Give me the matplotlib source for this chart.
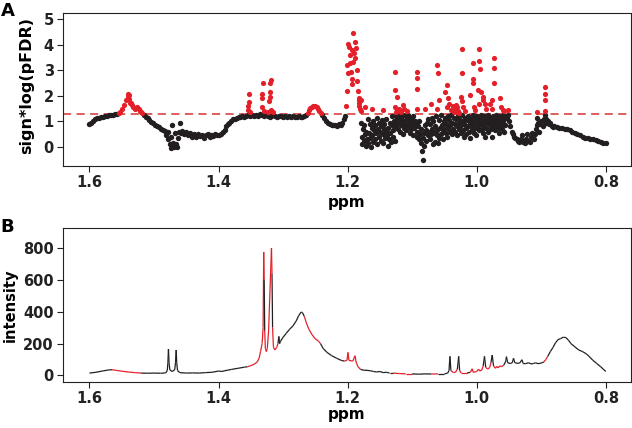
import numpy as np
import matplotlib.pyplot as plt
from matplotlib.collections import LineCollection

# ---- panel A data: (ppm, sign*log(pFDR)) ----
band_left = [(1.600, 0.88), (1.597, 0.95), (1.594, 1.02), (1.591, 1.08), (1.588, 1.12),
             (1.585, 1.15), (1.582, 1.17), (1.579, 1.19), (1.576, 1.21), (1.573, 1.22),
             (1.570, 1.24), (1.567, 1.25), (1.564, 1.24), (1.561, 1.27), (1.558, 1.28),
             (1.555, 1.31), (1.552, 1.38), (1.549, 1.50), (1.546, 1.64), (1.543, 1.82),
             (1.541, 1.96), (1.540, 2.08), (1.539, 2.02), (1.538, 1.88), (1.537, 1.74),
             (1.536, 1.72), (1.534, 1.66), (1.532, 1.55), (1.530, 1.50), (1.528, 1.52),
             (1.526, 1.56), (1.524, 1.50), (1.522, 1.42), (1.520, 1.36), (1.518, 1.32)]

band_low = [(1.516, 1.25), (1.513, 1.18), (1.510, 1.12), (1.507, 1.05), (1.504, 0.98),
            (1.501, 0.92), (1.498, 0.86), (1.495, 0.80), (1.492, 0.76), (1.489, 0.72),
            (1.486, 0.68), (1.483, 0.62), (1.481, 0.45), (1.479, 0.30), (1.478, 0.58),
            (1.476, 0.10), (1.474, 0.40), (1.473, -0.05), (1.472, 0.85), (1.471, 0.15),
            (1.469, 0.00), (1.468, 0.55), (1.466, 0.12), (1.465, -0.02), (1.463, 0.35),
            (1.461, 0.60), (1.459, 0.93), (1.458, 0.55), (1.456, 0.62), (1.453, 0.50),
            (1.450, 0.58), (1.447, 0.45), (1.444, 0.55), (1.441, 0.40), (1.438, 0.52),
            (1.435, 0.38), (1.432, 0.50), (1.429, 0.42), (1.426, 0.48), (1.423, 0.35),
            (1.420, 0.45), (1.417, 0.50), (1.414, 0.40), (1.411, 0.47), (1.408, 0.42),
            (1.405, 0.50), (1.402, 0.45), (1.399, 0.48), (1.396, 0.52), (1.393, 0.58),
            (1.390, 0.68), (1.388, 0.80), (1.386, 0.88), (1.384, 0.95), (1.381, 1.02),
            (1.378, 1.08), (1.375, 1.10), (1.372, 1.14), (1.369, 1.16), (1.366, 1.18),
            (1.363, 1.20), (1.360, 1.18), (1.357, 1.22), (1.354, 1.24)]

band_mid = [(1.351, 1.22), (1.348, 1.25), (1.345, 1.20), (1.342, 1.26), (1.339, 1.22),
            (1.336, 1.28), (1.333, 1.24), (1.330, 1.20), (1.327, 1.27), (1.324, 1.22),
            (1.321, 1.18), (1.318, 1.22), (1.315, 1.25), (1.312, 1.20), (1.309, 1.18),
            (1.306, 1.22), (1.303, 1.20), (1.300, 1.17), (1.297, 1.21), (1.294, 1.19),
            (1.291, 1.22), (1.288, 1.18), (1.285, 1.20), (1.282, 1.17), (1.279, 1.19),
            (1.276, 1.21), (1.273, 1.18), (1.270, 1.16), (1.267, 1.20), (1.264, 1.26),
            (1.262, 1.34), (1.260, 1.44), (1.258, 1.52), (1.256, 1.58), (1.253, 1.62),
            (1.250, 1.60), (1.248, 1.56), (1.246, 1.48), (1.244, 1.40), (1.242, 1.32),
            (1.240, 1.25), (1.237, 1.14), (1.234, 1.02), (1.231, 0.94), (1.228, 0.88),
            (1.225, 0.86), (1.222, 0.84), (1.219, 0.86), (1.216, 0.82), (1.213, 0.88),
            (1.210, 0.86), (1.208, 0.95), (1.206, 1.10), (1.204, 1.22)]

spikes_133 = [(1.354, 1.45), (1.354, 1.62), (1.353, 1.77), (1.353, 2.09), (1.352, 1.38),
              (1.333, 1.55), (1.332, 1.93), (1.332, 2.09), (1.331, 2.51), (1.330, 1.40),
              (1.323, 1.35), (1.322, 1.79), (1.321, 1.96), (1.320, 2.16), (1.320, 2.49),
              (1.319, 2.64), (1.318, 1.45), (1.316, 1.35)]

cluster_120 = [(1.202, 1.60), (1.201, 2.20), (1.201, 3.20), (1.200, 2.90), (1.199, 4.05),
               (1.198, 3.90), (1.197, 3.60), (1.196, 3.27), (1.195, 2.94), (1.194, 2.68),
               (1.193, 3.79), (1.193, 2.45), (1.192, 3.33), (1.191, 4.45), (1.190, 3.70),
               (1.189, 3.50), (1.188, 4.12), (1.187, 3.88), (1.186, 3.00), (1.185, 2.58),
               (1.184, 2.20), (1.183, 1.90), (1.183, 1.61), (1.182, 1.71), (1.181, 1.50),
               (1.180, 1.83), (1.179, 1.40)]

noisy_black = [(1.179, 0.95), (1.178, 0.40), (1.177, 0.10), (1.176, 0.70), (1.175, 0.25),
               (1.174, 0.85), (1.173, 0.50), (1.172, 0.05), (1.171, 0.60), (1.170, 0.30),
               (1.169, 1.10), (1.168, 0.15), (1.167, 0.55), (1.166, 0.90), (1.165, 0.35),
               (1.164, 0.00), (1.163, 0.75), (1.162, 0.45), (1.161, 1.00), (1.160, 0.20),
               (1.159, 0.65), (1.158, 0.85), (1.157, 0.30), (1.156, 0.55), (1.155, 1.15),
               (1.154, 0.10), (1.153, 0.70), (1.152, 0.40), (1.151, 0.95), (1.150, 0.60),
               (1.149, 0.25), (1.148, 0.80), (1.147, 1.05), (1.146, 0.50), (1.145, 0.15),
               (1.144, 0.70), (1.143, 0.90), (1.142, 0.35), (1.141, 0.60), (1.140, 1.10),
               (1.139, 0.45), (1.138, 0.05), (1.137, 0.75), (1.136, 0.30), (1.135, 0.95),
               (1.134, 0.55), (1.133, 0.20), (1.132, 0.85), (1.131, 1.20), (1.130, 0.65),
               (1.129, 0.40), (1.128, 1.00), (1.127, 0.25), (1.126, 0.80), (1.125, 1.20),
               (1.124, 0.90), (1.123, 1.10), (1.122, 0.70), (1.121, 1.25), (1.120, 0.95),
               (1.119, 0.60), (1.118, 1.15), (1.117, 0.85), (1.116, 1.05), (1.115, 0.50),
               (1.114, 1.25), (1.113, 0.75), (1.112, 1.00), (1.111, 0.90), (1.110, 1.20),
               (1.109, 0.65), (1.108, 1.10), (1.107, 0.80), (1.106, 1.25), (1.105, 0.95),
               (1.104, 0.55), (1.103, 1.15), (1.102, 0.70), (1.101, 1.05), (1.100, 0.85),
               (1.099, 0.45), (1.098, 1.20), (1.097, 0.75), (1.096, 1.00), (1.094, 0.90),
               (1.093, 0.60), (1.092, 0.40), (1.091, 0.80), (1.090, 0.30), (1.089, 1.00),
               (1.088, 0.50), (1.087, 0.15), (1.086, 0.70), (1.085, -0.15), (1.084, 0.35),
               (1.083, -0.50), (1.082, 0.05), (1.081, 0.55), (1.080, 0.85), (1.079, 0.25),
               (1.078, 0.65), (1.077, 0.95), (1.076, 0.45), (1.075, 1.10), (1.074, 0.60),
               (1.073, 0.30), (1.072, 0.90), (1.071, 0.50), (1.070, 1.15), (1.069, 0.70),
               (1.068, 0.10), (1.067, 1.00), (1.066, 0.55), (1.065, 0.20), (1.064, 0.80),
               (1.063, 1.20), (1.062, 0.45), (1.061, 0.65), (1.060, 0.15), (1.059, 0.35),
               (1.058, 1.05), (1.057, 0.75), (1.056, 0.50), (1.055, 1.25), (1.054, 0.85),
               (1.053, 0.60), (1.052, 0.30), (1.051, 1.00), (1.050, 0.70), (1.049, 1.15),
               (1.048, 0.55), (1.047, 0.90), (1.046, 0.40), (1.045, 1.20), (1.044, 0.75),
               (1.043, 1.05), (1.042, 0.60), (1.041, 0.85), (1.040, 1.25), (1.039, 0.50),
               (1.038, 0.95), (1.037, 0.70), (1.036, 1.15), (1.034, 0.90), (1.033, 0.60),
               (1.032, 1.10), (1.031, 0.80), (1.030, 0.45), (1.029, 1.20), (1.028, 0.95),
               (1.027, 0.70), (1.026, 1.05), (1.025, 0.55), (1.024, 0.85), (1.023, 1.25),
               (1.022, 0.65), (1.021, 1.00), (1.020, 0.40), (1.019, 0.90), (1.018, 1.15),
               (1.017, 0.75), (1.016, 0.50), (1.015, 1.05), (1.014, 0.80), (1.013, 1.20),
               (1.012, 0.60), (1.011, 0.95), (1.010, 0.35), (1.009, 1.10), (1.008, 0.70),
               (1.007, 0.85), (1.006, 1.25), (1.005, 0.55), (1.004, 1.00), (1.003, 0.75),
               (1.002, 1.15), (1.001, 0.45), (1.000, 0.90), (0.999, 1.20), (0.998, 0.80),
               (0.997, 1.05), (0.996, 0.65), (0.995, 1.15), (0.994, 0.90), (0.993, 1.25),
               (0.992, 0.70), (0.991, 1.00), (0.990, 0.55), (0.989, 1.20), (0.988, 0.85),
               (0.987, 0.40), (0.986, 1.10), (0.985, 0.75), (0.984, 0.95), (0.983, 1.25),
               (0.982, 0.60), (0.981, 1.05), (0.980, 0.85), (0.979, 1.15), (0.978, 0.70),
               (0.977, 0.40), (0.976, 1.00), (0.975, 1.20), (0.974, 0.80), (0.973, 0.95),
               (0.972, 1.10), (0.971, 0.65), (0.970, 1.25), (0.969, 0.90), (0.968, 1.05),
               (0.967, 0.75), (0.966, 1.20), (0.965, 0.55), (0.964, 1.00), (0.963, 0.85),
               (0.962, 1.15), (0.961, 0.70), (0.960, 1.25), (0.959, 0.95), (0.958, 0.60),
               (0.957, 1.10), (0.956, 0.85), (0.955, 1.20)]

noisy_red = [(1.183, 1.84), (1.173, 1.57), (1.162, 1.50), (1.145, 1.44), (1.127, 2.94),
             (1.126, 2.22), (1.124, 1.97), (1.127, 1.57), (1.123, 1.44), (1.125, 1.37),
             (1.121, 1.50), (1.119, 1.40), (1.117, 1.35), (1.115, 1.63), (1.112, 1.50),
             (1.108, 1.42), (1.093, 2.94), (1.093, 2.69), (1.092, 2.28), (1.093, 1.50),
             (1.080, 1.50), (1.071, 1.70), (1.061, 3.20), (1.060, 2.88), (1.059, 1.83),
             (1.061, 1.50), (1.049, 2.16), (1.046, 2.42), (1.045, 1.90), (1.046, 1.57),
             (1.043, 1.70), (1.040, 1.45), (1.037, 1.60), (1.036, 1.35), (1.034, 1.50),
             (1.033, 1.40), (1.032, 1.65), (1.031, 1.38), (1.030, 1.55), (1.029, 1.42),
             (1.028, 1.33), (1.023, 3.82), (1.023, 2.90), (1.025, 1.96), (1.023, 1.80),
             (1.021, 1.57), (1.018, 1.40), (1.006, 3.30), (1.006, 2.68), (1.006, 2.51),
             (1.010, 2.03), (1.005, 1.57), (1.002, 1.45), (0.996, 3.85), (0.996, 3.37),
             (0.995, 3.07), (0.998, 2.22), (0.994, 2.16), (0.991, 1.96), (0.990, 1.83),
             (0.996, 1.70), (0.987, 1.70), (0.985, 1.50), (0.974, 3.47), (0.974, 3.10),
             (0.974, 2.52), (0.977, 1.83), (0.979, 1.70), (0.976, 1.50), (0.964, 1.90),
             (0.963, 1.57), (0.960, 1.44), (0.957, 1.40), (0.951, 1.44)]

band_right = [(0.953, 1.15), (0.951, 1.24), (0.950, 1.00), (0.948, 0.80), (0.946, 0.60),
              (0.944, 0.50), (0.942, 0.40), (0.940, 0.35), (0.938, 0.30), (0.936, 0.25),
              (0.934, 0.20), (0.932, 0.30), (0.930, 0.45), (0.928, 0.20), (0.926, 0.15),
              (0.924, 0.30), (0.922, 0.50), (0.920, 0.25), (0.918, 0.20), (0.916, 0.40),
              (0.914, 0.55), (0.912, 0.30), (0.910, 0.50), (0.908, 0.70), (0.906, 0.85),
              (0.906, 1.15), (0.905, 0.95), (0.904, 0.60), (0.902, 0.90), (0.900, 1.00),
              (0.898, 0.80), (0.896, 1.10), (0.895, 0.98), (0.894, 1.25), (0.893, 1.10),
              (0.892, 0.95), (0.890, 1.00), (0.888, 0.90), (0.886, 0.95), (0.884, 0.82),
              (0.882, 0.78), (0.880, 0.80), (0.876, 0.76), (0.872, 0.75), (0.868, 0.74),
              (0.864, 0.72), (0.860, 0.70), (0.856, 0.66), (0.852, 0.60), (0.848, 0.55),
              (0.844, 0.50), (0.840, 0.45), (0.836, 0.40), (0.832, 0.35), (0.828, 0.33),
              (0.824, 0.32), (0.820, 0.30), (0.816, 0.28), (0.812, 0.25), (0.808, 0.20),
              (0.804, 0.17), (0.800, 0.14), (0.906, 1.37), (0.894, 2.35), (0.894, 2.09),
              (0.894, 1.83), (0.894, 1.40)]

threshold = 1.3

# ---- panel B data: mean spectrum ----
spec_ppm = [1.600, 1.590, 1.580, 1.570, 1.565, 1.560, 1.550, 1.540, 1.530, 1.520,
            1.510, 1.500, 1.490, 1.482, 1.4795, 1.4785, 1.4776, 1.4767, 1.4755, 1.472,
            1.468, 1.4667, 1.4657, 1.4648, 1.4635, 1.460, 1.450, 1.440, 1.430, 1.420,
            1.410, 1.400, 1.395, 1.390, 1.380, 1.370, 1.360, 1.355, 1.350, 1.345,
            1.340, 1.337, 1.335, 1.3325, 1.331, 1.3300, 1.3293, 1.3285, 1.3275, 1.3260,
            1.3245, 1.3225, 1.3180, 1.3172, 1.3163, 1.3150, 1.3130, 1.3100, 1.3080, 1.3065,
            1.3055, 1.3040, 1.300, 1.295, 1.290, 1.285, 1.280, 1.276, 1.272, 1.270,
            1.267, 1.264, 1.260, 1.255, 1.250, 1.245, 1.242, 1.238, 1.232, 1.225,
            1.217, 1.210, 1.205, 1.201, 1.1995, 1.198, 1.192, 1.1885, 1.187, 1.184,
            1.180, 1.175, 1.170, 1.165, 1.160, 1.155, 1.150, 1.145, 1.140, 1.135,
            1.130, 1.120, 1.110, 1.100, 1.090, 1.080, 1.070, 1.060, 1.050, 1.045,
            1.043, 1.0415, 1.040, 1.036, 1.033, 1.030, 1.028, 1.0265, 1.024, 1.015,
            1.010, 1.007, 1.0055, 1.000, 0.997, 0.9955, 0.992, 0.990, 0.988, 0.986,
            0.983, 0.980, 0.978, 0.976, 0.974, 0.971, 0.969, 0.967, 0.964, 0.962,
            0.958, 0.955, 0.954, 0.952, 0.948, 0.945, 0.943, 0.941, 0.936, 0.933,
            0.930, 0.928, 0.924, 0.920, 0.916, 0.912, 0.909, 0.905, 0.900, 0.896,
            0.893, 0.890, 0.886, 0.882, 0.878, 0.874, 0.870, 0.866, 0.862, 0.858,
            0.854, 0.848, 0.842, 0.836, 0.830, 0.826, 0.820, 0.814, 0.808, 0.804,
            0.800]
spec_int = [15, 20, 28, 35, 36, 33, 27, 22, 18, 15,
            14, 15, 14, 16, 30, 80, 166, 80, 35, 25,
            35, 80, 160, 80, 30, 18, 15, 16, 15, 18,
            20, 28, 25, 30, 38, 45, 52, 55, 62, 70,
            85, 110, 150, 200, 300, 775, 600, 280, 170, 150,
            170, 280, 800, 640, 300, 180, 160, 175, 200, 245,
            200, 215, 240, 265, 290, 310, 340, 375, 398, 395,
            370, 330, 290, 255, 230, 215, 200, 170, 145, 125,
            108, 95, 90, 95, 145, 95, 90, 124, 85, 55,
            38, 33, 32, 30, 25, 22, 25, 18, 20, 15,
            15, 12, 10, 10, 8, 10, 9, 10, 10, 15,
            30, 120, 30, 18, 20, 40, 120, 30, 15, 15,
            20, 42, 20, 25, 40, 28, 35, 60, 120, 50,
            40, 50, 80, 128, 60, 45, 57, 48, 60, 55,
            65, 90, 118, 80, 75, 80, 108, 80, 76, 80,
            99, 75, 74, 80, 73, 75, 80, 74, 78, 85,
            100, 120, 150, 175, 205, 225, 232, 240, 238, 222,
            200, 180, 160, 150, 135, 120, 95, 75, 55, 40,
            25]

# ppm ranges where the spectrum is drawn in red (significant)
sig_ranges = [(1.563, 1.517), (1.357, 1.3295), (1.3287, 1.3174), (1.3166, 1.308),
              (1.266, 1.242), (1.204, 1.182), (1.130, 1.098), (1.075, 1.059),
              (1.038, 1.0305), (1.026, 1.013), (1.010, 0.9895), (0.9865, 0.978),
              (0.9745, 0.960), (0.897, 0.890)]

RED = '#E3202A'
BLACK = '#231F20'

plt.rcParams['font.family'] = 'DejaVu Sans'
plt.rcParams['font.weight'] = 'bold'
fig = plt.figure(figsize=(6.32, 4.28), dpi=100)
W, H = 632.0, 428.0


def px_axes(l, t, r, b):
    return fig.add_axes([l / W, 1 - b / H, (r - l) / W, (b - t) / H])


axA = px_axes(63, 13, 631, 166)
axB = px_axes(63, 228, 631, 382)

# panel A scatter
pts = band_left + band_low + band_mid + spikes_133 + cluster_120 + \
    noisy_black + noisy_red + band_right
ppm_a = np.array([p[0] for p in pts])
score_a = np.array([p[1] for p in pts])
sig = score_a > threshold
axA.scatter(ppm_a[~sig], score_a[~sig], s=15, color=BLACK, linewidths=0, zorder=3)
axA.scatter(ppm_a[sig], score_a[sig], s=14, color=RED, linewidths=0, zorder=3)
axA.axhline(threshold, color='#D9534F', lw=1.3, dashes=(4.5, 3), zorder=2)
axA.set_xlim(1.641, 0.761)
axA.set_ylim(-0.75, 5.25)
axA.set_yticks([0, 1, 2, 3, 4, 5])

# panel B spectrum, coloured per segment
x = np.array(spec_ppm)
y = np.array(spec_int)
segs = np.stack([np.column_stack([x[:-1], y[:-1]]), np.column_stack([x[1:], y[1:]])], axis=1)
mid = (x[:-1] + x[1:]) / 2
is_red = np.zeros(len(mid), dtype=bool)
for hi, lo in sig_ranges:
    is_red |= (mid <= hi) & (mid >= lo)
cols = [RED if r else BLACK for r in is_red]
axB.add_collection(LineCollection(segs, colors=cols, linewidths=0.9))
axB.set_xlim(1.641, 0.761)
axB.set_ylim(-41, 926)
axB.set_yticks([0, 200, 400, 600, 800])

for ax in (axA, axB):
    ax.set_xticks([1.6, 1.4, 1.2, 1.0, 0.8])
    ax.set_xticklabels(['1.6', '1.4', '1.2', '1.0', '0.8'])
    ax.tick_params(length=4.5, width=0.8, labelsize=10.5, pad=2, color='#222222',
                   labelcolor='#222222')
    for sp in ax.spines.values():
        sp.set_linewidth(0.8)
        sp.set_color('#222222')

fig.text(8 / W, 1 - 11 / H, 'A', fontsize=13, fontweight='bold', ha='center', va='center')
fig.text(7 / W, 1 - 227 / H, 'B', fontsize=13, fontweight='bold', ha='center', va='center')
fig.text(347 / W, 1 - 203 / H, 'ppm', fontsize=11, ha='center', va='center')
fig.text(347 / W, 1 - 415 / H, 'ppm', fontsize=11, ha='center', va='center')
fig.text(27 / W, 1 - 86 / H, 'sign*log(pFDR)', fontsize=11.5, rotation=90, ha='center', va='center')
fig.text(10 / W, 1 - 305 / H, 'intensity', fontsize=10.5, rotation=90, ha='center', va='center')

fig.savefig('out.png', dpi=100)
